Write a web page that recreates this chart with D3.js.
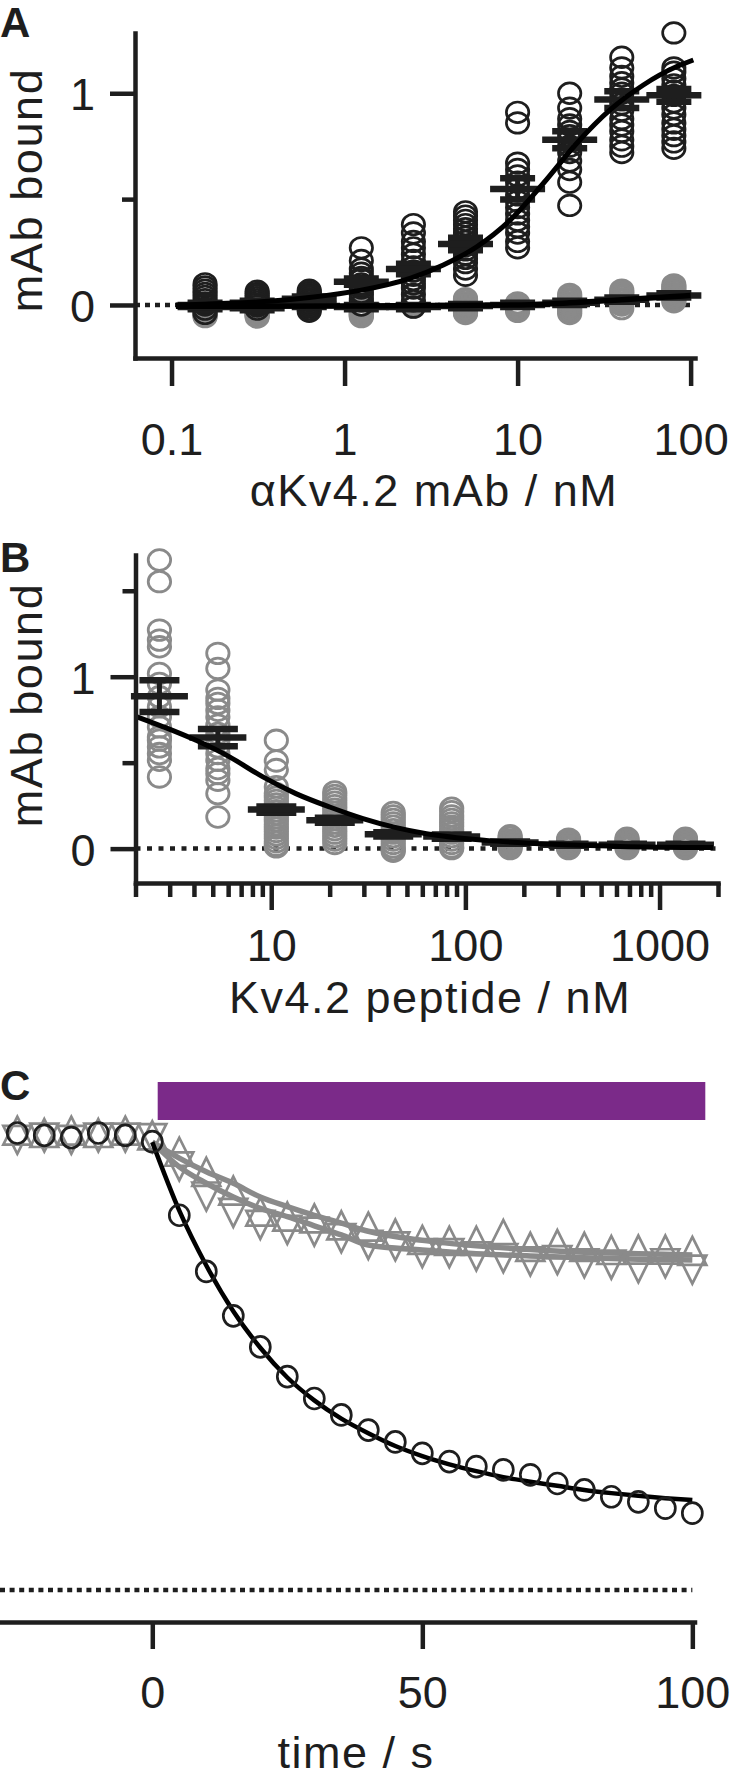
<!DOCTYPE html>
<html><head><meta charset="utf-8">
<script src="https://cdn.jsdelivr.net/npm/d3@7"></script>
<style>body{margin:0;background:#fff}svg{display:block;background:#fff}</style>
</head><body><svg id="c" width="733" height="1778"></svg>
<script>
// ---------------- Panel A data ----------------
const aConc = [0.15625, 0.3125, 0.625, 1.25, 2.5, 5, 10, 20, 40, 80];
const aBind = [
  [0.1, 0.085, 0.07, 0.055, 0.04, 0.025, 0.01, 0.0, -0.02, -0.04],
  [0.065, 0.055, 0.045, 0.035, 0.025, 0.015, 0.005, -0.005, -0.02],
  [0.07, 0.06, 0.05, 0.04, 0.03, 0.02, 0.01, 0.0, -0.01, -0.02, -0.03],
  [0.27, 0.21, 0.17, 0.15, 0.13, 0.12, 0.1, 0.09, 0.08, 0.06, 0.05, 0.03, 0.02, 0.0],
  [0.38, 0.34, 0.3, 0.27, 0.24, 0.21, 0.18, 0.16, 0.14, 0.12, 0.1, 0.08, 0.05, 0.02, -0.01],
  [0.44, 0.42, 0.4, 0.38, 0.36, 0.34, 0.32, 0.3, 0.28, 0.26, 0.24, 0.22, 0.2, 0.17, 0.14],
  [0.91, 0.86, 0.67, 0.64, 0.61, 0.58, 0.55, 0.52, 0.49, 0.46, 0.43, 0.4, 0.37, 0.34, 0.3, 0.27],
  [1.0, 0.93, 0.88, 0.85, 0.82, 0.8, 0.78, 0.75, 0.72, 0.68, 0.64, 0.58, 0.47],
  [1.17, 1.12, 1.08, 1.05, 1.02, 1.0, 0.97, 0.95, 0.92, 0.88, 0.85, 0.82, 0.78, 0.75, 0.72],
  [1.285, 1.12, 1.1, 1.07, 1.04, 1.01, 0.99, 0.96, 0.93, 0.9, 0.86, 0.83, 0.8, 0.77, 0.74]
];
const aBindMean = [0.0, 0.01, 0.03, 0.11, 0.17, 0.288, 0.548, 0.78, 0.97, 0.99];
const aBindSem  = [0.01, 0.01, 0.01, 0.015, 0.025, 0.03, 0.05, 0.04, 0.04, 0.03];
const aCtrl = [
  [0.0, -0.005, -0.01, -0.015, -0.02, -0.025, -0.03, -0.035, -0.04, -0.045, -0.05, -0.055],
  [0.0, -0.005, -0.01, -0.015, -0.02, -0.025, -0.03, -0.035, -0.04, -0.045, -0.05, -0.057],
  [0.05, 0.045, 0.04, 0.035, 0.03, 0.025, 0.02, 0.015, 0.01, 0.005, 0.0],
  [0.0, -0.005, -0.01, -0.015, -0.02, -0.03, -0.035, -0.04, -0.045, -0.05, -0.055],
  [0.01, 0.005, 0.0, -0.005, -0.01],
  [0.03, 0.025, 0.02, 0.01, 0.0, -0.01, -0.015, -0.02, -0.03, -0.035, -0.04],
  [0.01, 0.005, 0.0, -0.01, -0.015, -0.02, -0.03],
  [0.05, 0.04, 0.03, 0.02, 0.01, 0.0, -0.01, -0.02, -0.03, -0.04],
  [0.07, 0.06, 0.05, 0.04, 0.03, 0.02, 0.01, 0.0, -0.017],
  [0.095, 0.085, 0.075, 0.065, 0.055, 0.045, 0.035, 0.025, 0.015]
];
const aCtrlMean = [-0.01, -0.015, 0.0, -0.01, -0.01, -0.005, 0.0, 0.01, 0.025, 0.045];
const aCtrlSem  = [0.01, 0.01, 0.01, 0.01, 0.01, 0.01, 0.01, 0.01, 0.01, 0.01];
const aFitX = [0.106, 0.156, 0.3125, 0.625, 1.25, 2.39, 3.72, 5.81, 9.04, 14.1, 22.0, 34.2, 53.3, 83.1, 103.7];
const aFitY = [0.0, 0.004, 0.014, 0.035, 0.07, 0.126, 0.189, 0.275, 0.40, 0.575, 0.764, 0.921, 1.039, 1.126, 1.157];
const aCtrlFitX = [0.106, 0.3, 1, 3, 10, 20, 40, 80, 100];
const aCtrlFitY = [-0.006, -0.006, -0.005, -0.003, 0.0, 0.01, 0.025, 0.04, 0.045];
const aXTicks = [0.1, 1, 10, 100];
const aYTicks = [0, 0.5, 1];

// ---------------- Panel B data ----------------
const bConc = [2.65625, 5.3125, 10.625, 21.25, 42.5, 85, 170, 340, 680, 1360];
const bVals = [
  [1.679, 1.553, 1.271, 1.213, 1.174, 1.019, 0.961, 0.883, 0.825, 0.766, 0.708, 0.65, 0.631, 0.592, 0.553, 0.514, 0.417],
  [1.136, 1.048, 0.922, 0.874, 0.845, 0.805, 0.766, 0.718, 0.67, 0.631, 0.592, 0.553, 0.514, 0.466, 0.437, 0.398, 0.32, 0.184],
  [0.63, 0.51, 0.46, 0.36, 0.32, 0.3, 0.28, 0.26, 0.24, 0.22, 0.2, 0.18, 0.16, 0.14, 0.12, 0.1, 0.08, 0.06, 0.04, 0.02, 0.01],
  [0.33, 0.31, 0.29, 0.27, 0.25, 0.23, 0.21, 0.19, 0.17, 0.15, 0.13, 0.11, 0.09, 0.07, 0.05, 0.03],
  [0.21, 0.19, 0.17, 0.15, 0.13, 0.11, 0.09, 0.07, 0.05, 0.03, 0.01, -0.005, -0.015],
  [0.235, 0.215, 0.19, 0.17, 0.15, 0.13, 0.11, 0.09, 0.07, 0.05, 0.03, 0.01, 0.0],
  [0.075, 0.065, 0.05, 0.04, 0.03, 0.02, 0.01, 0.0],
  [0.055, 0.045, 0.035, 0.025, 0.015, 0.005, 0.0],
  [0.06, 0.05, 0.04, 0.03, 0.02, 0.01, 0.0],
  [0.06, 0.05, 0.04, 0.03, 0.02, 0.01, 0.0]
];
const bMean = [0.887, 0.646, 0.227, 0.165, 0.083, 0.07, 0.035, 0.022, 0.022, 0.022];
const bSem  = [0.092, 0.05, 0.018, 0.015, 0.012, 0.012, 0.006, 0.006, 0.006, 0.006];
const bFitX = [2.0, 2.76, 4.1, 6.1, 9.06, 13.4, 20, 29.7, 44, 63, 128, 283, 624, 1884];
const bFitY = [0.77, 0.71, 0.63, 0.534, 0.417, 0.32, 0.242, 0.175, 0.122, 0.087, 0.048, 0.025, 0.013, 0.006];
const bMajorTicks = [10, 100, 1000];
const bMinorTicks = [2,3,4,5,6,7,8,9,20,30,40,50,60,70,80,90,200,300,400,500,600,700,800,900,2000];
const bYTicks = [0, 0.5, 1, 1.5];

// ---------------- Panel C data ----------------
const cTime = [-25,-20,-15,-10,-5,0,5,10,15,20,25,30,35,40,45,50,55,60,65,70,75,80,85,90,95,100];
const cCircle = [1.0,0.995,0.99,1.0,0.995,0.981,0.82,0.697,0.6,0.532,0.467,0.419,0.383,0.35,0.324,0.299,0.281,0.27,0.263,0.252,0.233,0.219,0.204,0.193,0.179,0.168];
const cTriUp = [1.005,1.0,1.005,1.0,1.005,0.995,0.959,0.915,0.874,0.828,0.817,0.813,0.798,0.795,0.78,0.766,0.764,0.764,0.779,0.751,0.757,0.751,0.744,0.745,0.745,0.742];
const cTriDown = [0.985,0.99,0.985,0.99,0.99,0.989,0.927,0.861,0.825,0.799,0.788,0.784,0.77,0.755,0.752,0.737,0.737,0.73,0.726,0.719,0.722,0.715,0.712,0.704,0.715,0.701];
const cFitT = [0,5,10,15,20,25,30,35,40,45,50,55,60,65,70,75,80,85,90,95,100];
const cFitBlack = [0.98,0.83,0.71,0.61,0.53,0.465,0.415,0.375,0.343,0.315,0.293,0.275,0.26,0.247,0.237,0.228,0.219,0.212,0.206,0.201,0.197];
const cFitGrayT = [0,5,10,15,20,25,30,35,40,50,60,70,80,90,100];
const cFitGray1 = [0.98,0.945,0.915,0.89,0.86,0.839,0.82,0.803,0.785,0.765,0.753,0.745,0.739,0.736,0.733];
const cFitGray2 = [0.98,0.926,0.89,0.86,0.835,0.817,0.797,0.777,0.755,0.744,0.736,0.731,0.727,0.724,0.722];
const cBar = [1, 102.4];
const cXTicks = [0, 50, 100];

// ---------------- styles ----------------
const FONT = '"Liberation Sans", Arial, Helvetica, sans-serif';
const INK = "#1e1e1e", GRAY = "#8a8a8a", PURPLE = "#7b2a89";
const svg = d3.select("#c");

function styleAxis(g) {
  g.attr("font-family", null).attr("font-size", null);
  g.select(".domain").attr("stroke", INK).attr("stroke-width", 4.5).attr("stroke-linecap", "square");
  g.selectAll(".tick line").attr("stroke", INK).attr("stroke-width", 4.5);
  g.selectAll(".tick text").attr("fill", INK).style("font-family", FONT).style("font-size", "45px");
}
function title(x, y, str, rot, spacing) {
  return svg.append("text").attr("transform", `translate(${x},${y})` + (rot ? " rotate(-90)" : ""))
    .attr("text-anchor", "middle").style("font-family", FONT).style("font-size", "45px")
    .style("letter-spacing", spacing + "px").attr("fill", INK).text(str);
}
function panelLabel(x, y, str) {
  svg.append("text").attr("x", x).attr("y", y).style("font-family", FONT).style("font-size", "42px")
    .style("font-weight", "bold").attr("fill", INK).text(str);
}
function openCircles(g, xs, ys, xScale, yScale, color, rx, ry, sw) {
  xs.forEach((c, i) => {
    g.selectAll(null).data(ys[i]).enter().append("ellipse")
      .attr("cx", xScale(c)).attr("cy", d => yScale(d)).attr("rx", rx).attr("ry", ry)
      .attr("fill", "none").attr("stroke", color).attr("stroke-width", sw);
  });
}
function errBars(g, xs, means, sems, xScale, yScale, wMean, wCap, sw) {
  xs.forEach((c, i) => {
    const x = xScale(c), m = yScale(means[i]), hi = yScale(means[i] + sems[i]), lo = yScale(means[i] - sems[i]);
    g.append("line").attr("x1", x).attr("x2", x).attr("y1", hi).attr("y2", lo).attr("stroke", INK).attr("stroke-width", 5);
    [hi, lo].forEach(yy => g.append("line").attr("x1", x - wCap / 2).attr("x2", x + wCap / 2).attr("y1", yy).attr("y2", yy).attr("stroke", INK).attr("stroke-width", sw));
    g.append("line").attr("x1", x - wMean / 2).attr("x2", x + wMean / 2).attr("y1", m).attr("y2", m).attr("stroke", INK).attr("stroke-width", sw);
  });
}
function curve(g, xs, ys, xScale, yScale, color, sw) {
  const pts = xs.map((x, i) => [xScale(x), yScale(ys[i])]);
  g.append("path").attr("d", d3.line().curve(d3.curveMonotoneX)(pts)).attr("fill", "none")
    .attr("stroke", color).attr("stroke-width", sw).attr("stroke-linecap", "butt");
}

// ================= Panel A =================
const xA = d3.scaleLog().domain([0.0615, 106]).range([135, 695]);
const yA = d3.scaleLinear().domain([-0.2504, 1.2846]).range([358, 33]);
const gA = svg.append("g");
gA.append("line").attr("x1", xA.range()[0]).attr("x2", xA.range()[1]).attr("y1", yA(0)).attr("y2", yA(0))
  .attr("stroke", INK).attr("stroke-width", 4.5).attr("stroke-dasharray", "5,5");
openCircles(gA, aConc, aCtrl, xA, yA, GRAY, 11.2, 10.3, 2.8);
openCircles(gA, aConc, aBind, xA, yA, INK, 11.2, 10.3, 2.7);
errBars(gA, aConc, aCtrlMean, aCtrlSem, xA, yA, 55, 35, 6.5);
errBars(gA, aConc, aBindMean, aBindSem, xA, yA, 55, 35, 6.5);
curve(gA, aCtrlFitX, aCtrlFitY, xA, yA, "#000", 5.5);
curve(gA, aFitX, aFitY, xA, yA, "#000", 5);

const axAx = svg.append("g").attr("transform", `translate(0,${yA.range()[0]})`)
  .call(d3.axisBottom(xA).tickValues(aXTicks).tickSize(28).tickSizeOuter(0).tickFormat(d => String(d)));
styleAxis(axAx);
axAx.selectAll(".tick text").attr("y", 97).attr("dy", null);
const ayAx = svg.append("g").attr("transform", `translate(${xA.range()[0]},0)`)
  .call(d3.axisLeft(yA).tickValues(aYTicks).tickSize(25).tickSizeOuter(0).tickFormat(d => d === 0.5 ? "" : String(d)));
styleAxis(ayAx);
ayAx.selectAll(".tick line").attr("x2", d => d === 0.5 ? -13 : -25);
ayAx.selectAll(".tick text").attr("x", -40).attr("dy", null).attr("y", 16.5);
title(434, 506, "αKv4.2 mAb / nM", false, 1.5);
title(42, 190, "mAb bound", true, 1.6);
panelLabel(0, 37, "A");

// ================= Panel B =================
const xB = d3.scaleLog().domain([2, 2000]).range([135.5, 718]);
const yB = d3.scaleLinear().domain([-0.2, 1.708]).range([883, 555]);
const gB = svg.append("g");
gB.append("line").attr("x1", xB.range()[0]).attr("x2", xB.range()[1]).attr("y1", yB(0)).attr("y2", yB(0))
  .attr("stroke", INK).attr("stroke-width", 4.5).attr("stroke-dasharray", "5,6.5");
openCircles(gB, bConc, bVals, xB, yB, GRAY, 11.2, 10.3, 2.8);
errBars(gB, bConc, bMean, bSem, xB, yB, 57, 40, 6.5);
curve(gB, bFitX, bFitY, xB, yB, "#000", 5);

const bxAx = svg.append("g").attr("transform", `translate(0,${yB.range()[0]})`)
  .call(d3.axisBottom(xB).tickValues(bMajorTicks.concat(bMinorTicks)).tickSize(27).tickSizeOuter(0)
    .tickFormat(d => bMajorTicks.includes(d) ? String(d) : ""));
styleAxis(bxAx);
bxAx.selectAll(".tick line").attr("y2", d => bMajorTicks.includes(d) ? 27 : 14);
bxAx.selectAll(".tick text").attr("y", 78).attr("dy", null);
const byAx = svg.append("g").attr("transform", `translate(${xB.range()[0]},0)`)
  .call(d3.axisLeft(yB).tickValues(bYTicks).tickSize(25).tickSizeOuter(0)
    .tickFormat(d => (d === 0 || d === 1) ? String(d) : ""));
styleAxis(byAx);
byAx.selectAll(".tick line").attr("x2", d => (d === 0 || d === 1) ? -25 : -13);
byAx.selectAll(".tick text").attr("x", -40).attr("dy", null).attr("y", 16.5);
title(430, 1013, "Kv4.2 peptide / nM", false, 1.5);
title(42, 705, "mAb bound", true, 1.6);
panelLabel(0, 572, "B");

// ================= Panel C =================
const xC = d3.scaleLinear().domain([-28.2, 100.4]).range([0, 694.5]);
const yC = d3.scaleLinear().domain([0, 1]).range([1590, 1133]);
const gC = svg.append("g");
gC.append("rect").attr("x", xC(cBar[0])).attr("width", xC(cBar[1]) - xC(cBar[0]))
  .attr("y", 1082).attr("height", 38).attr("fill", PURPLE);
gC.append("line").attr("x1", xC.range()[0]).attr("x2", xC(100)).attr("y1", yC(0)).attr("y2", yC(0))
  .attr("stroke", INK).attr("stroke-width", 4.5).attr("stroke-dasharray", "5,4.6");
curve(gC, cFitGrayT, cFitGray1, xC, yC, GRAY, 5.5);
curve(gC, cFitGrayT, cFitGray2, xC, yC, GRAY, 5.5);
const triW = 28, triH = 28;
gC.selectAll(null).data(cTime).enter().append("path")
  .attr("d", `M0,${-triH/2}L${triW/2},${triH/2}L${-triW/2},${triH/2}Z`)
  .attr("transform", (t, i) => `translate(${xC(t)},${yC(cTriUp[i])})`)
  .attr("fill", "none").attr("stroke", GRAY).attr("stroke-width", 2.7).attr("stroke-linejoin", "miter");
gC.selectAll(null).data(cTime).enter().append("path")
  .attr("d", `M0,${triH/2}L${triW/2},${-triH/2}L${-triW/2},${-triH/2}Z`)
  .attr("transform", (t, i) => `translate(${xC(t)},${yC(cTriDown[i])})`)
  .attr("fill", "none").attr("stroke", GRAY).attr("stroke-width", 2.7).attr("stroke-linejoin", "miter");
curve(gC, cFitT, cFitBlack, xC, yC, "#000", 4.5);
gC.selectAll(null).data(cTime).enter().append("ellipse")
  .attr("cx", d => xC(d)).attr("cy", (d, i) => yC(cCircle[i])).attr("rx", 10).attr("ry", 10.5)
  .attr("fill", "none").attr("stroke", INK).attr("stroke-width", 2.7);

const cxAx = svg.append("g").attr("transform", "translate(0,1622)")
  .call(d3.axisBottom(xC).tickValues(cXTicks).tickSize(27).tickSizeOuter(0).tickFormat(d => String(d)));
styleAxis(cxAx);
cxAx.selectAll(".tick text").attr("y", 86).attr("dy", null);
title(356, 1768, "time / s", false, 1.5);
panelLabel(0, 1100, "C");
</script></body></html>
